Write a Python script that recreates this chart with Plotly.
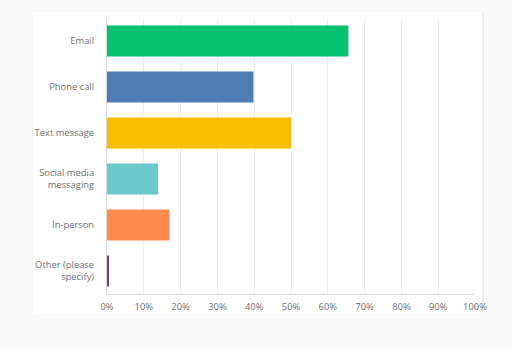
import plotly.graph_objects as go

categories = ["Email", "Phone call", "Text message", "Social media<br>messaging", "In-person", "Other (please<br>specify)"]
values = [65.6, 39.8, 50.0, 13.9, 17.0, 0.5]
colors = ["#05C06F", "#507CB6", "#F9BE00", "#6BC8CD", "#FF8B4F", "#6B3A8E"]
tick_vals = [0, 10, 20, 30, 40, 50, 60, 70, 80, 90, 100]
tick_text = [f"{v}%" for v in tick_vals]

fig = go.Figure(go.Bar(
    x=values, y=categories, orientation="h",
    marker=dict(color=colors, line=dict(width=0)),
    hoverinfo="skip",
))

L, R, T, B = 107, 37, 18, 55
W, H = 512, 349
pw, ph = W - L - R, H - T - B
def px(x):
    return (x - L) / pw
def py(y):
    return (H - B - y) / ph

fig.update_layout(
    width=W, height=H,
    margin=dict(l=L, r=R, t=T, b=B),
    paper_bgcolor="#FAFAFA",
    plot_bgcolor="rgba(0,0,0,0)",
    bargap=0.33,
    font=dict(family="Open Sans, sans-serif", size=9.4, color="#707174"),
    showlegend=False,
    xaxis=dict(range=[0, 100], tickvals=tick_vals, ticktext=tick_text,
               showgrid=True, gridcolor="#EDEDED", gridwidth=1,
               showline=True, linecolor="#DADADA", linewidth=1,
               zeroline=False, ticks="", ticklen=0, fixedrange=True,
               ticklabelstandoff=4),
    yaxis=dict(autorange="reversed", showgrid=False, showline=True,
               linecolor="#DADADA", linewidth=1, ticks="", ticklen=0,
               ticklabelstandoff=10, fixedrange=True),
    shapes=[
        dict(type="rect", xref="paper", yref="paper",
             x0=px(33), x1=px(483), y0=py(313), y1=py(12),
             fillcolor="white", line=dict(width=0), layer="below"),
        dict(type="line", xref="paper", yref="paper",
             x0=px(483), x1=px(483), y0=py(313), y1=py(12),
             line=dict(color="#E2E2E2", width=1), layer="below"),
    ],
)

fig.write_html("out.html")
